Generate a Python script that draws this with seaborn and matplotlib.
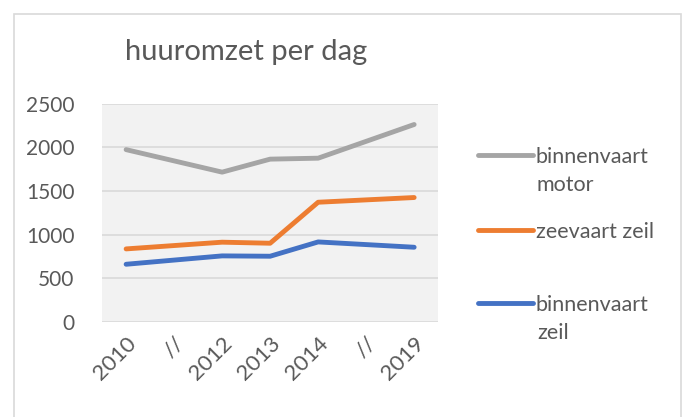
import seaborn as sns
import matplotlib.pyplot as plt
import pandas as pd
import numpy as np
from matplotlib.patches import Rectangle

# categories on the x axis ("//" marks a skipped period)
categories = ["2010", "//", "2012", "2013", "2014", "//", "2019"]
years = ["2010", "2012", "2013", "2014", "2019"]

# values
binnenvaart_motor = [1975, 1717, 1866, 1877, 2263]
zeevaart_zeil = [837, 914, 902, 1372, 1426]
binnenvaart_zeil = [661, 757, 753, 917, 856]

series_names = ["binnenvaart motor", "zeevaart zeil", "binnenvaart zeil"]
# legend labels as wrapped in the original (first line, second line)
legend_lines = [("binnenvaart", "motor"), ("zeevaart zeil", ""), ("binnenvaart", "zeil")]
colors = ["#A5A5A5", "#ED7D31", "#4472C4"]

# x position = index of the year in the category list
year_pos = [categories.index(y) for y in years]
rows = []
for name, vals in zip(series_names, [binnenvaart_motor, zeevaart_zeil, binnenvaart_zeil]):
    for pos, v in zip(year_pos, vals):
        rows.append({"pos": pos, "value": v, "serie": name})
df = pd.DataFrame(rows)

sns.set_theme(style="white")
plt.rcParams["font.family"] = ["Lato", "DejaVu Sans"]

fig = plt.figure(figsize=(6.9, 4.17), dpi=100)
ax = fig.add_axes([0.148, 0.228, 0.487, 0.523])
ax.set_facecolor("#F2F2F2")

sns.lineplot(data=df, x="pos", y="value", hue="serie", palette=colors,
             hue_order=series_names, linewidth=3.5, ax=ax, legend=False)

ax.set_xlim(-0.5, len(categories) - 0.5)
ax.set_ylim(0, 2500)
ax.set_yticks(np.arange(0, 2501, 500))
ax.set_xticks(range(len(categories)))
ax.set_xticklabels(categories, rotation=45, ha="right", rotation_mode="anchor")
ax.yaxis.grid(True, color="#D9D9D9", linewidth=1.2)
ax.set_axisbelow(True)
for s in ax.spines.values():
    s.set_visible(False)
ax.tick_params(axis="y", length=0, labelsize=15, labelcolor="#595959", pad=20)
ax.tick_params(axis="x", length=0, labelsize=16, labelcolor="#595959", pad=8)
ax.set_xlabel("")
ax.set_ylabel("")

fig.text(0.357, 0.875, "huuromzet per dag", ha="center", va="center",
         fontsize=21, color="#595959")

# legend: one entry per block, handle level with first text line
entry_y = [157, 232, 305]
for c, (l1, l2), y in zip(colors, legend_lines, entry_y):
    h = plt.Line2D([], [], color=c, linewidth=3.5, solid_capstyle="round")
    fig.legend([h], [l1], loc="center left",
               bbox_to_anchor=(467 / 690, 1 - y / 417), frameon=False,
               fontsize=15.5, labelcolor="#595959", handlelength=2.55,
               handletextpad=0.15, borderpad=0)
    if l2:
        fig.text(537 / 690, 1 - (y + 28) / 417, l2, ha="left", va="center",
                 fontsize=15.5, color="#595959")

# outer chart frame
fig.add_artist(Rectangle((14 / 690, -0.05), 667 / 690, 1 - 14 / 417 + 0.05,
                         transform=fig.transFigure, fill=False,
                         edgecolor="#D9D9D9", linewidth=1.2))

fig.savefig("out.png", dpi=100)
